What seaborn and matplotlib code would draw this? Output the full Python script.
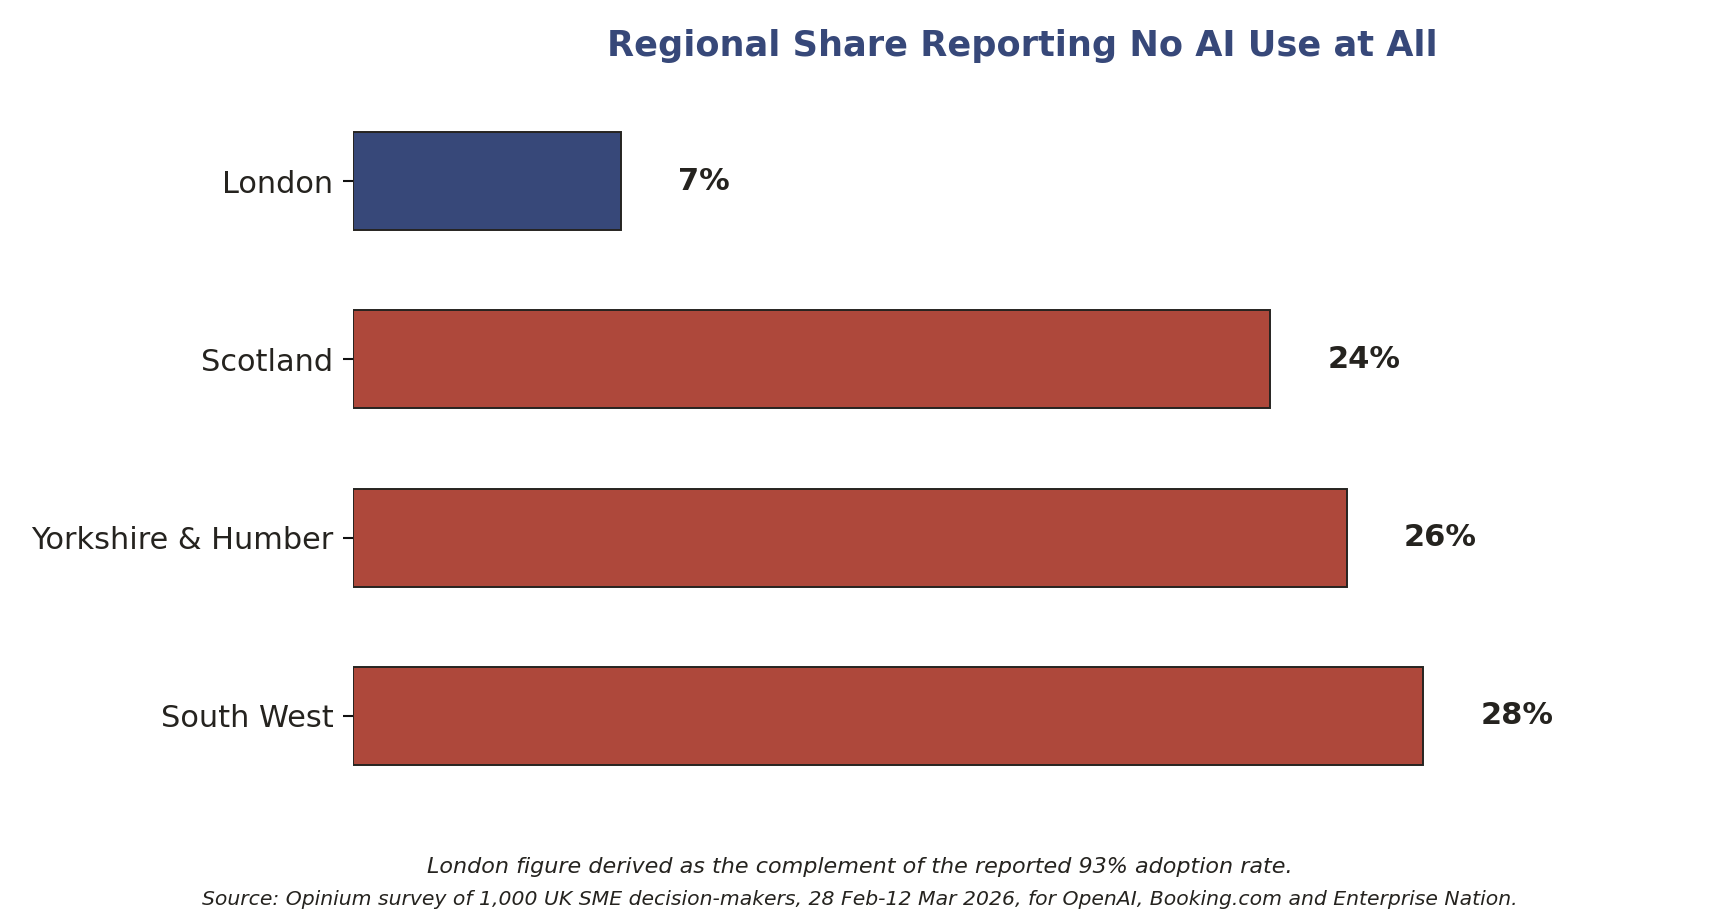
import matplotlib
matplotlib.use("Agg")
import matplotlib.pyplot as plt
import seaborn as sns
import pandas as pd

regions = ["London", "Scotland", "Yorkshire & Humber", "South West"]
no_ai_share = [7, 24, 26, 28]
bar_colors = ["#374879", "#AE483B", "#AE483B", "#AE483B"]
title = "Regional Share Reporting No AI Use at All"
note = "London figure derived as the complement of the reported 93% adoption rate."
source = "Source: Opinium survey of 1,000 UK SME decision-makers, 28 Feb-12 Mar 2026, for OpenAI, Booking.com and Enterprise Nation."

sns.set_theme(style="white")
plt.rcParams["font.family"] = ["DejaVu Sans"]
text_color = "#25231F"

df = pd.DataFrame({"region": regions, "share": no_ai_share})

fig = plt.figure(figsize=(17.2, 9.19), dpi=100)
ax = fig.add_axes([0.2052, 0.124, 0.983 - 0.2052, 0.900 - 0.124])

sns.barplot(data=df, y="region", x="share", hue="region",
            palette=dict(zip(regions, bar_colors)), legend=False,
            saturation=1, width=0.55, edgecolor="#262420", linewidth=1.4, ax=ax)

ax.set_xlim(0, 35)
ax.set_ylim(3.5, -0.5)
sns.despine(ax=ax, left=True, bottom=True)
ax.set_xticks([])
ax.set_xlabel("")
ax.set_ylabel("")
ax.tick_params(axis="y", length=7, width=1.5, color="#111111",
               labelsize=21.9, labelcolor=text_color, pad=7, left=True)

for i, v in enumerate(no_ai_share):
    ax.text(v + 1.5, i, f"{v}%", va="center", ha="left",
            fontsize=22, fontweight="bold", color=text_color)

ax.set_title(title, fontsize=25.3, fontweight="bold", color="#374879", pad=26)

fig.text(0.5, 1 - 873 / 919, note, ha="center", va="baseline",
         fontsize=16, style="italic", color=text_color)
fig.text(0.5, 1 - 905 / 919, source, ha="center", va="baseline",
         fontsize=14.7, style="italic", color=text_color)

fig.savefig("out.png", dpi=100, facecolor="white")
